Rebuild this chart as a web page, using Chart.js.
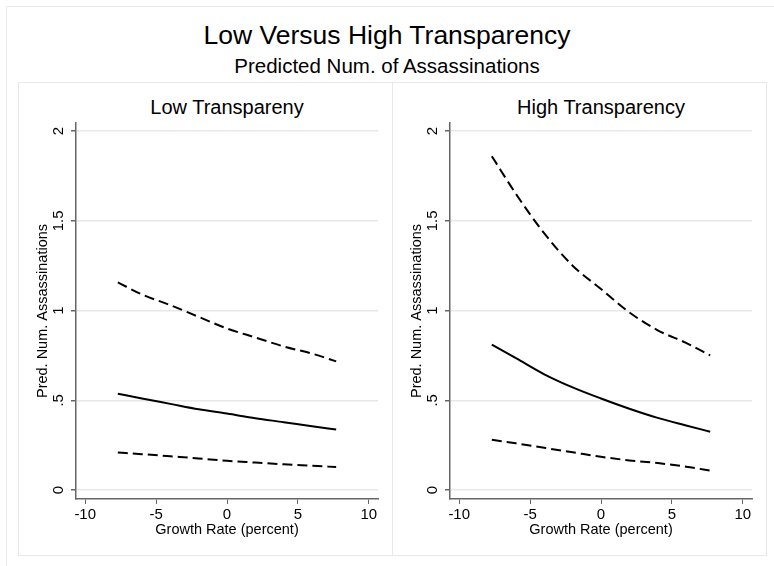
<!DOCTYPE html>
<html>
<head>
<meta charset="utf-8">
<script src="https://cdn.jsdelivr.net/npm/chart.js@4.4.1/dist/chart.umd.min.js"></script>
<style>
  body { margin: 0; background: #fff; font-family: 'Liberation Sans', Arial, sans-serif; }
  #wrap { position: relative; width: 774px; height: 566px; overflow: hidden; }
  .frame { position: absolute; left: 6px; top: 6px; width: 800px; height: 600px;
           border-left: 1px solid #ececec; border-top: 1px solid #ececec; }
  .panel { position: absolute; top: 82px; width: 373px; height: 472px; border: 1px solid #e8e8e8; }
  .title { position: absolute; left: 0; width: 774px; text-align: center; color: #000; white-space: nowrap; }
  canvas { position: absolute; top: 82px; }
</style>
</head>
<body>
<div id="wrap">
  <div class="frame"></div>
  <div class="title" style="top:22px;font-size:26.5px;line-height:26.5px;">Low Versus High Transparency</div>
  <div class="title" style="top:56px;font-size:20.5px;line-height:20.5px;">Predicted Num. of Assassinations</div>
  <div class="panel" style="left:18px;"></div>
  <div class="panel" style="left:392px;"></div>
  <div class="title" style="top:97px;left:18px;width:418px;font-size:20px;line-height:20px;">Low Transpareny</div>
  <div class="title" style="top:97px;left:392px;width:418px;font-size:20px;line-height:20px;">High Transparency</div>
  <canvas id="low" width="374" height="473" style="left:18px;"></canvas>
  <canvas id="high" width="374" height="473" style="left:392px;"></canvas>
</div>
<script>
// growth rate values along the x axis
const growth = [-7.7, -6, -4, -2, 0, 2, 4, 6, 7.7];

// low transparency panel
const lowPred  = [0.537, 0.51, 0.48, 0.45, 0.426, 0.40, 0.378, 0.355, 0.337];
const lowUpper = [1.157, 1.09, 1.03, 0.965, 0.90, 0.85, 0.80, 0.76, 0.717];
const lowLower = [0.209, 0.20, 0.188, 0.176, 0.163, 0.153, 0.143, 0.135, 0.128];

// high transparency panel
const highPred  = [0.81, 0.735, 0.645, 0.572, 0.51, 0.453, 0.402, 0.36, 0.325];
const highUpper = [1.86, 1.65, 1.43, 1.25, 1.12, 0.99, 0.89, 0.82, 0.75];
const highLower = [0.28, 0.26, 0.235, 0.21, 0.185, 0.165, 0.15, 0.13, 0.108];

// ticks
const xTicks = [-10, -5, 0, 5, 10];
const yTicks = [0, 0.5, 1, 1.5, 2];
const yTickText = ['0', '.5', '1', '1.5', '2'];

Chart.defaults.font.family = "'Liberation Sans', Arial, sans-serif";
Chart.defaults.color = '#000';

function pts(ys) {
  return growth.map((g, i) => ({ x: g, y: ys[i] }));
}

function lineSet(ys, dashed) {
  return {
    data: pts(ys),
    borderColor: '#000',
    borderWidth: 2,
    borderDash: dashed ? [10, 5] : [],
    pointRadius: 0,
    cubicInterpolationMode: 'monotone',
    fill: false
  };
}

function makeChart(id, upper, pred, lower) {
  return new Chart(document.getElementById(id), {
    type: 'line',
    data: {
      datasets: [lineSet(upper, true), lineSet(pred, false), lineSet(lower, true)]
    },
    options: {
      responsive: false,
      animation: false,
      devicePixelRatio: 1,
      layout: { padding: { left: 12, right: 14, top: 41, bottom: 16 } },
      plugins: { legend: { display: false }, tooltip: { enabled: false } },
      scales: {
        x: {
          type: 'linear',
          min: -10.65,
          max: 10.65,
          afterBuildTicks: s => { s.ticks = xTicks.map(v => ({ value: v })); },
          afterFit: s => { s.height = 40; },
          grid: { drawOnChartArea: false, drawTicks: true, tickLength: 5, tickColor: '#666' },
          border: { display: true, color: '#666', width: 1.5 },
          ticks: { font: { size: 15 }, padding: 2, maxRotation: 0 },
          title: { display: true, text: 'Growth Rate (percent)', font: { size: 14.5 }, padding: 0 }
        },
        y: {
          type: 'linear',
          min: -0.05,
          max: 2.045,
          afterBuildTicks: s => { s.ticks = yTicks.map(v => ({ value: v })); },
          afterFit: s => { s.width = 46; },
          grid: { color: '#e8e8e8', lineWidth: 1.5, drawTicks: true, tickLength: 5, tickColor: '#666' },
          border: { display: true, color: '#666', width: 1.5 },
          ticks: {
            font: { size: 15 },
            padding: 2,
            minRotation: 90,
            maxRotation: 90,
            crossAlign: 'center',
            callback: v => yTickText[yTicks.indexOf(v)]
          },
          title: { display: true, text: 'Pred. Num. Assassinations', font: { size: 14.5 }, padding: 4 }
        }
      }
    }
  });
}

makeChart('low', lowUpper, lowPred, lowLower);
makeChart('high', highUpper, highPred, highLower);
</script>
</body>
</html>
